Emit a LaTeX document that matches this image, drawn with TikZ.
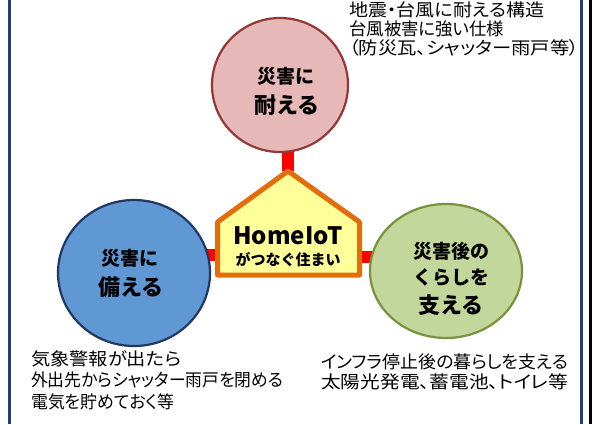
\documentclass[tikz,border=0pt]{standalone}
\usepackage{fontspec}
\newfontfamily\jp{Noto Sans CJK JP}
\newfontfamily\jpp[RawFeature=+palt]{Noto Sans CJK JP}
\usetikzlibrary{backgrounds,shapes.geometric}
\definecolor{pinkfill}{HTML}{E6B9B8}
\definecolor{pinkline}{HTML}{953735}
\definecolor{bluefill}{HTML}{5F98D2}
\definecolor{blueline}{HTML}{1F3864}
\definecolor{greenfill}{HTML}{C3D69B}
\definecolor{greenline}{HTML}{77933C}
\definecolor{housefill}{HTML}{FFFF99}
\definecolor{houseline}{HTML}{E46C0A}
\definecolor{framea}{HTML}{1F3E78}
\newcommand\fitline[2]{\resizebox{#1pt}{\height}{#2}}
\tikzset{
  circ/.style={ellipse, inner sep=0pt, line width=2.2pt},
  conn/.style={draw=red, line width=12pt},
  lblA/.style={font=\jp\bfseries\fontsize{19}{22}\selectfont, inner sep=0pt},
  lblB/.style={font=\jp\bfseries\fontsize{22}{26}\selectfont, inner sep=0pt},
  note/.style={align=left, inner sep=0pt, anchor=north west},
  frameline/.style={line width=2.5pt},
}
\begin{document}
\begin{tikzpicture}[x=1pt,y=-1pt]
\useasboundingbox (0,0) rectangle (596,424);
% circles
\node[circ, fill=pinkfill, draw=pinkline, minimum width=136pt, minimum height=134pt] (pink) at (280,85) {};
\node[circ, fill=bluefill, draw=blueline, minimum width=152pt, minimum height=146pt] (blue) at (134,273) {};
\node[circ, fill=greenfill, draw=greenline, minimum width=152pt, minimum height=134pt] (green) at (446,271) {};
% house
\coordinate (apex) at (288,171);
\coordinate (el) at (217.5,222);
\coordinate (bl) at (217.5,275);
\coordinate (br) at (359.5,275);
\coordinate (er) at (359.5,222);
\coordinate (hl) at (217.5,255);
\coordinate (hr) at (359.5,257);
\draw[fill=housefill, draw=houseline, line width=5pt, line join=round] (apex) -- (el) -- (bl) -- (br) -- (er) -- cycle;
% connectors behind
\begin{pgfonlayer}{background}
\fill[white] (0,0) rectangle (596,424);
\draw[conn] (apex) -- (apex |- pink.center);
\draw[conn] (hl) -- (hl -| blue.center);
\draw[conn] (hr) -- (hr -| green.center);
\end{pgfonlayer}
% circle labels
\node[lblA] (p1) at (286,76) {災害に};
\node[lblB] (p2) at (287,105) {耐える};
\node[lblA] (b1) at (130,258) {災害に};
\node[lblB] (b2) at (131,287) {備える};
\node[lblA] (g1) at (451,251) {災害後の};
\node[lblA] (g2) at (451,277) {くらしを};
\node[lblB] (g3) at (451,305) {支える};
% house labels
\node[font=\jp\bfseries\fontsize{24}{28}\selectfont, inner sep=0pt] (h1) at (288,236) {HomeIoT};
\node[font=\jp\bfseries\fontsize{15}{18}\selectfont, inner sep=0pt] (h2) at (288,260) {がつなぐ住まい};
% notes
\node[note, font=\jpp\fontsize{17.5}{19}\selectfont] (n1) at (349,2) {\fitline{195}{地震・台風に耐える構造}\\\fitline{155}{台風被害に強い仕様}\\\fitline{230}{（防災瓦、シャッター雨戸等）}};
\node[note, font=\jpp\fontsize{17.5}{21.5}\selectfont] (n2) at (31,350) {\fitline{150}{気象警報が出たら}\\\fitline{252}{外出先からシャッター雨戸を閉める}\\\fitline{143}{電気を貯めておく等}};
\node[note, font=\jpp\fontsize{17.5}{20}\selectfont] (n3) at (321,354) {\fitline{247}{インフラ停止後の暮らしを支える}\\\fitline{247}{太陽光発電、蓄電池、トイレ等}};
% frame
\draw[frameline, draw=framea] (9.5,0) -- (9.5,424);
\draw[frameline, draw=framea] (581.5,0) -- (581.5,424);
\draw[frameline, draw=black] (590.5,0) -- (590.5,424);
\end{tikzpicture}
\end{document}
